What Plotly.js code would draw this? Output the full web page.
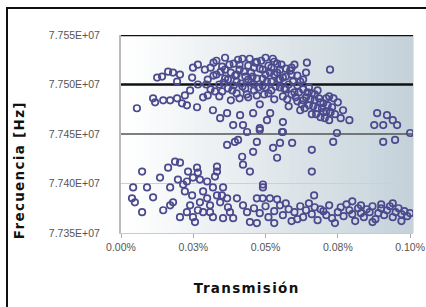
<!DOCTYPE html>
<html><head><meta charset="utf-8">
<script src="https://cdn.plot.ly/plotly-3.0.1.min.js"></script>
<style>
html,body{margin:0;padding:0;background:#fff;width:426px;height:307px;overflow:hidden;}
#frame{position:absolute;left:6px;top:7px;width:600px;height:500px;border:2px solid #111;}
#chart{position:absolute;left:0;top:0;width:426px;height:307px;}
#chart .annotation-text{letter-spacing:1.3px;}
</style></head>
<body><div id="frame"></div><div id="chart"></div>
<script>
// x: transmission (%), y: frequency (Hz)
const upperX = [0.0055,0.0125,0.0142,0.0163,0.018,0.0204,0.0194,0.0111,0.0118,0.0146,0.017,0.0194,0.0211,0.0228,0.0221,0.0239,0.0249,0.0266,0.0246,0.0266,0.0263,0.0284,
0.029,0.030,0.031,0.032,0.033,0.034,0.034,0.035,0.036,0.036,0.037,0.038,0.038,0.039,0.040,0.040,0.041,0.042,0.042,0.043,0.044,0.044,0.045,0.045,0.046,0.047,0.047,0.048,0.048,0.049,0.050,0.050,0.051,0.052,0.052,0.053,0.054,0.054,0.055,0.056,0.056,0.057,0.058,0.058,0.059,0.060,0.060,0.061,0.062,0.062,0.063,0.064,0.064,0.065,0.066,0.066,0.067,0.068,0.068,0.069,0.070,0.071,0.072,0.072,0.073,0.074,0.075,0.076,
0.030,0.032,0.033,0.035,0.036,0.037,0.039,0.040,0.041,0.041,0.043,0.044,0.046,0.046,0.047,0.049,0.049,0.050,0.051,0.052,0.053,0.053,0.055,0.055,0.057,0.057,0.059,0.059,0.061,0.061,0.063,0.063,0.065,0.067,0.069,0.070,0.071,
0.0295,0.031,0.0325,0.0345,0.0355,0.0375,0.0385,0.0395,0.0405,0.0415,0.0425,0.0435,0.0445,0.0455,0.0465,0.0475,0.0485,0.0495,0.0505,0.0515,0.0525,0.0535,0.0545,0.0555,0.0565,0.0575,0.0585,0.0595,0.0605,0.0615,0.0625,0.0635,0.0645,0.0655,0.0665,0.0675,0.0685,0.0695,0.0705,0.0715,0.0725,0.0735,
0.0388,0.0436,0.048,0.0557,0.0343,0.0318,0.0367,0.0412,0.0457,0.0516,0.0505,0.056,0.0422,0.0723,0.0643];
const upperY = [7.7476e7,7.7507e7,7.7508e7,7.7513e7,7.7512e7,7.7510e7,7.7503e7,7.7486e7,7.7482e7,7.7484e7,7.7484e7,7.7486e7,7.7481e7,7.7479e7,7.7489e7,7.7494e7,7.7517e7,7.7520e7,7.7507e7,7.7500e7,7.7477e7,7.7487e7,
7.7515e7,7.7505e7,7.7495e7,7.7522e7,7.7510e7,7.7500e7,7.7488e7,7.7518e7,7.7527e7,7.7506e7,7.7496e7,7.7512e7,7.7484e7,7.7521e7,7.7503e7,7.7491e7,7.7515e7,7.7526e7,7.7498e7,7.7508e7,7.7519e7,7.7487e7,7.7502e7,7.7512e7,7.7494e7,7.7523e7,7.7506e7,7.7516e7,7.7480e7,7.7499e7,7.7510e7,7.7527e7,7.7491e7,7.7517e7,7.7503e7,7.7485e7,7.7512e7,7.7521e7,7.7497e7,7.7507e7,7.7488e7,7.7516e7,7.7500e7,7.7478e7,7.7510e7,7.7492e7,7.7520e7,7.7483e7,7.7503e7,7.7474e7,7.7495e7,7.7487e7,7.7512e7,7.7479e7,7.7491e7,7.7470e7,7.7484e7,7.7476e7,7.7494e7,7.7467e7,7.7481e7,7.7473e7,7.7488e7,7.7464e7,7.7477e7,7.7470e7,7.7482e7,7.7466e7,
7.7489e7,7.7509e7,7.7524e7,7.7493e7,7.7515e7,7.7505e7,7.7499e7,7.7510e7,7.7520e7,7.7486e7,7.7496e7,7.7505e7,7.7517e7,7.7500e7,7.7489e7,7.7515e7,7.7506e7,7.7497e7,7.7519e7,7.7494e7,7.7510e7,7.7523e7,7.7505e7,7.7515e7,7.7495e7,7.7508e7,7.7490e7,7.7517e7,7.7499e7,7.7509e7,7.7505e7,7.7484e7,7.7497e7,7.7490e7,7.7482e7,7.7472e7,7.7486e7,
7.7500e7,7.7517e7,7.7493e7,7.7513e7,7.7502e7,7.7520e7,7.7494e7,7.7509e7,7.7525e7,7.7501e7,7.7513e7,7.7490e7,7.7526e7,7.7508e7,7.7522e7,7.7497e7,7.7524e7,7.7490e7,7.7503e7,7.7512e7,7.7526e7,7.7498e7,7.7505e7,7.7520e7,7.7496e7,7.7485e7,7.7514e7,7.7503e7,7.7487e7,7.7492e7,7.7480e7,7.7476e7,7.7492e7,7.7485e7,7.7478e7,7.7470e7,7.7486e7,7.7476e7,7.7466e7,7.7479e7,7.7472e7,7.7486e7,
7.7459e7,7.7452e7,7.7454e7,7.7452e7,7.7466e7,7.7474e7,7.7471e7,7.7469e7,7.7471e7,7.7471e7,7.7464e7,7.7462e7,7.7459e7,7.7515e7,7.7522e7];
const rightX = [0.0768,0.079,0.0886,0.092,0.094,0.0955,0.0907,0.0876,0.0948,0.0907,0.100,0.0747,0.0734];
const rightY = [7.7474e7,7.7464e7,7.7471e7,7.7469e7,7.7464e7,7.7459e7,7.7459e7,7.7459e7,7.7444e7,7.7442e7,7.7451e7,7.7451e7,7.7442e7];
const midX = [0.0367,0.0394,0.0405,0.047,0.0526,0.055,0.0592,0.066,0.0419,0.0457,0.054,0.0446,0.0422,0.0332,0.0332,0.066,0.0491,0.056,0.048];
const midY = [7.7439e7,7.7442e7,7.7444e7,7.7442e7,7.7436e7,7.7441e7,7.7441e7,7.7434e7,7.7427e7,7.7432e7,7.7426e7,7.7412e7,7.7419e7,7.7417e7,7.7412e7,7.7412e7,7.7399e7,7.7452e7,7.7456e7];
const lowerX = [0.0042,0.0038,0.0048,0.0073,0.009,0.0111,0.0073,0.0135,0.0163,0.0187,0.0204,0.017,0.018,0.0197,0.0215,0.0221,0.0232,0.0246,0.0263,0.0266,0.0273,0.0239,0.0228,0.0249,0.0284,0.0298,0.0308,0.0318,0.0332,0.0343,0.0308,0.0353,0.0367,0.0377,0.0388,0.0353,0.0318,0.0284,0.0273,0.0298,0.017,0.0146,0.0204,0.0422,0.0436,0.0446,0.047,0.0401,0.0249,0.0228,0.0325,0.0349,0.037,0.0266,0.0256];
const lowerY = [7.7396e7,7.7385e7,7.7381e7,7.7371e7,7.7396e7,7.7386e7,7.7412e7,7.7406e7,7.7416e7,7.7422e7,7.7421e7,7.7396e7,7.7381e7,7.7404e7,7.7399e7,7.7392e7,7.7412e7,7.7388e7,7.7416e7,7.7411e7,7.7404e7,7.7378e7,7.7371e7,7.7366e7,7.7392e7,7.7385e7,7.7378e7,7.7396e7,7.7388e7,7.7381e7,7.7371e7,7.7396e7,7.7385e7,7.7371e7,7.7365e7,7.7365e7,7.7366e7,7.7371e7,7.7381e7,7.7402e7,7.7378e7,7.7373e7,7.7366e7,7.7378e7,7.7371e7,7.7361e7,7.7360e7,7.7385e7,7.7406e7,7.7402e7,7.7407e7,7.7388e7,7.7376e7,7.7373e7,7.7361e7];
const bandX = [0.047,0.049,0.0515,0.054,0.0491,0.046,0.048,0.050,0.051,0.053,0.055,0.056,0.058,0.059,0.060,0.062,0.063,0.064,0.066,0.067,0.068,0.070,0.071,0.072,0.073,0.075,0.076,0.077,0.079,0.080,0.081,0.082,0.083,0.084,0.085,0.086,0.087,0.088,0.089,0.090,0.091,0.092,0.093,0.094,0.095,0.096,0.097,0.098,0.099,0.100,0.053,0.057,0.061,0.065,0.069,0.074,0.078,0.083,0.087,0.090,0.094,0.097,0.0668,0.080];
const bandY = [7.7385e7,7.7385e7,7.7385e7,7.7384e7,7.7396e7,7.7375e7,7.7370e7,7.7377e7,7.7366e7,7.7372e7,7.7378e7,7.7368e7,7.7374e7,7.7362e7,7.7371e7,7.7377e7,7.7366e7,7.7373e7,7.7369e7,7.7376e7,7.7363e7,7.7372e7,7.7368e7,7.7378e7,7.7365e7,7.7371e7,7.7376e7,7.7367e7,7.7373e7,7.7369e7,7.7362e7,7.7375e7,7.7370e7,7.7366e7,7.7374e7,7.7371e7,7.7377e7,7.7364e7,7.7370e7,7.7375e7,7.7368e7,7.7373e7,7.7377e7,7.7366e7,7.7371e7,7.7375e7,7.7369e7,7.7372e7,7.7367e7,7.7370e7,7.7360e7,7.7380e7,7.7364e7,7.7380e7,7.7374e7,7.7360e7,7.7379e7,7.7378e7,7.7361e7,7.7379e7,7.7380e7,7.7362e7,7.7388e7,7.7382e7];

const xTickVals = [0, 0.025, 0.05, 0.075, 0.1];
const xTickText = ["0.00%", "0.03%", "0.05%", "0.08%", "0.10%"];
const yTickVals = [7.735e7, 7.740e7, 7.745e7, 7.750e7, 7.755e7];
const yTickText = ["7.735E+07", "7.740E+07", "7.745E+07", "7.750E+07", "7.755E+07"];

const xs = [].concat(upperX, rightX, midX, lowerX, bandX);
const ys = [].concat(upperY, rightY, midY, lowerY, bandY);

const shapes = [];
const N = 40;
for (let i = 0; i < N; i++) {
  const t = i / (N - 1);
  const r = Math.round(255 - t * 58), g = Math.round(255 - t * 45), b = Math.round(255 - t * 37);
  shapes.push({type:'rect', xref:'paper', yref:'paper', x0:i/N, x1:(i+1)/N + 0.002, y0:0, y1:1,
    fillcolor:`rgb(${r},${g},${b})`, line:{width:0}, layer:'below'});
}
const gridStyle = [
  {v:7.740e7, c:'#cfcfcf', w:1},
  {v:7.745e7, c:'#555', w:1.5},
  {v:7.750e7, c:'#111', w:2.5},
  {v:7.755e7, c:'#111', w:2.5}
];
gridStyle.forEach(g => shapes.push({type:'line', xref:'paper', yref:'y', x0:0, x1:1, y0:g.v, y1:g.v,
  line:{color:g.c, width:g.w}, layer:'below'}));

const trace = {x: xs, y: ys, type:'scatter', mode:'markers',
  marker:{symbol:'circle-open', size:6.5, color:'#4b4a8e', line:{width:1.7, color:'#4b4a8e'}},
  hoverinfo:'skip'};

const layout = {
  width:426, height:307,
  margin:{l:121, r:13, t:35, b:74},
  paper_bgcolor:'rgba(0,0,0,0)', plot_bgcolor:'rgba(0,0,0,0)',
  showlegend:false,
  font:{family:'Liberation Sans, Arial, sans-serif', color:'#555'},
  xaxis:{range:[0, 0.101], tickvals:xTickVals, ticktext:xTickText, showgrid:false, zeroline:false,
    showline:true, linecolor:'#b9cfe0', linewidth:1, ticks:'outside', ticklen:4, tickcolor:'#aaa',
    tickfont:{size:10.5, color:'#555'}},
  yaxis:{range:[7.735e7, 7.755e7], tickvals:yTickVals, ticktext:yTickText, showgrid:false, zeroline:false,
    showline:true, linecolor:'#bbb', linewidth:2, ticks:'outside', ticklen:17, tickcolor:'rgba(0,0,0,0)',
    tickfont:{size:10.5, color:'#555'}},
  shapes: shapes,
  annotations:[
    {text:'<b>Transmisión</b>', xref:'paper', yref:'paper', x:0.43, y:-0.28, xanchor:'center', yanchor:'middle',
     showarrow:false, font:{family:'DejaVu Sans, sans-serif', size:13.5, color:'#111'}},
    {text:'<b>Frecuencia [Hz]</b>', xref:'paper', yref:'paper', x:-0.35, y:0.32, xanchor:'center', yanchor:'middle',
     textangle:-90, showarrow:false, font:{family:'DejaVu Sans, sans-serif', size:13.5, color:'#111'}}
  ]
};
Plotly.newPlot('chart', [trace], layout, {staticPlot:true, displayModeBar:false});
</script></body></html>
